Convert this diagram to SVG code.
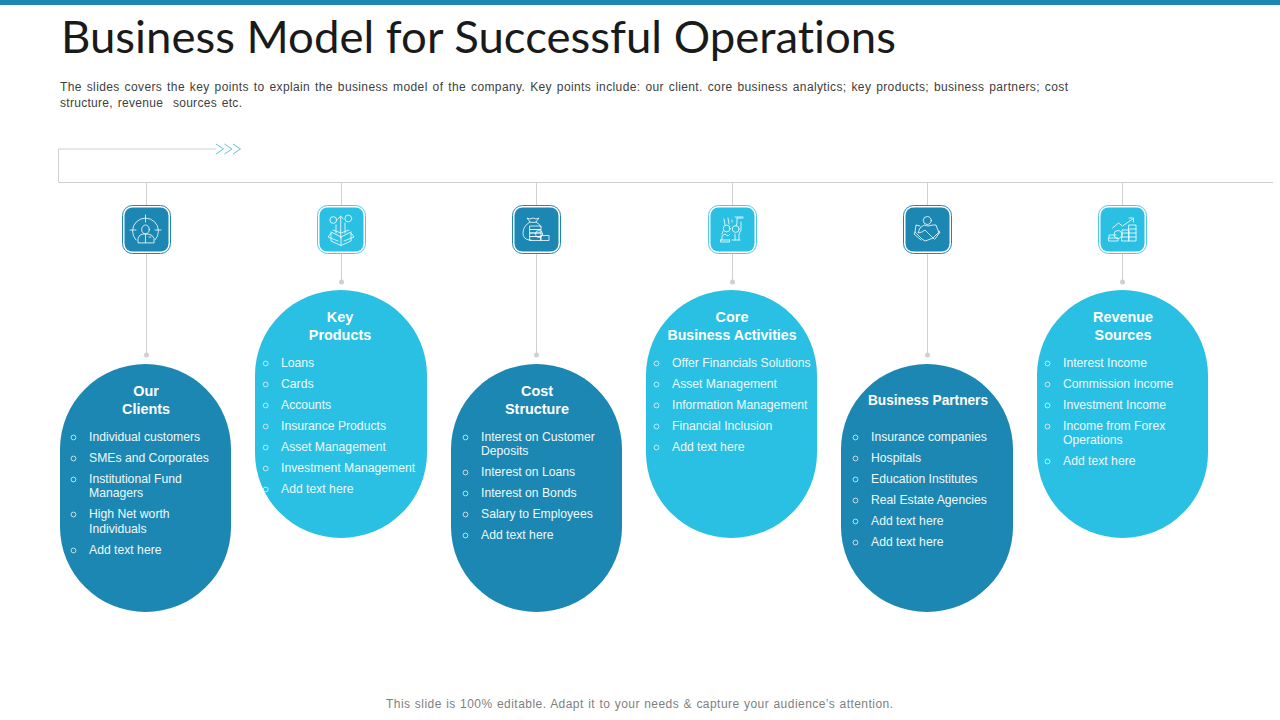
<svg xmlns="http://www.w3.org/2000/svg" width="1280" height="720" viewBox="0 0 1280 720">
<style>
text{font-family:"Liberation Sans",Arial,sans-serif;font-variant-ligatures:none}
.title{font-family:"Lato","Liberation Sans",sans-serif;font-size:45px;fill:#1a1a1a}
.intro{font-size:12px;fill:#404040;word-spacing:1.2px;white-space:pre}
.foot{font-size:12px;fill:#7f7f7f;word-spacing:.6px}
.dark{fill:#1c87b2}.light{fill:#29c0e3}
.h{font-size:14.400px;font-weight:bold;fill:#fff;text-anchor:middle}
.t{font-size:12.200px;fill:#eef9fc}
.b{fill:none;stroke:#e6f6fa;stroke-width:.8}
.line{fill:none;stroke:#d0d0d0;stroke-width:1}
.dot{fill:#d0d0d0}
.ring{fill:#fff;stroke-width:1}
.ic{fill:none;stroke:#fff;stroke-width:.8;stroke-linecap:round;stroke-linejoin:round}
.chev{fill:none;stroke:#62c6d4;stroke-width:1}
</style>
<defs>
<g id="bullet"><circle r="2.400" class="b"/></g>
</defs>
<rect width="1280" height="5" fill="#1c87b2"/>
<text class="title" x="61" y="53" textLength="835" lengthAdjust="spacingAndGlyphs">Business Model for Successful Operations</text>
<text class="intro" x="60" y="91" textLength="1008">The slides covers the key points to explain the business model of the company. Key points include: our client. core business analytics; key products; business partners; cost</text>
<text class="intro" x="60" y="107" textLength="182">structure, revenue  sources etc.</text>
<g id="connectors">
<path class="line" d="M216 149H58.500V182.500H1273"/>
<path class="chev" d="M216 144l7.500 5l-7.500 5M224.500 144l7.500 5l-7.500 5M233 144l7.500 5l-7.500 5"/>
<path class="line" d="M146.500 182.500V355M341.500 182.500V282M536.500 182.500V355M732.500 182.500V282M927.500 182.500V355M1122.500 182.500V282"/>
<circle class="dot" cx="146.500" cy="355" r="2.500"/><circle class="dot" cx="341.500" cy="282" r="2.500"/><circle class="dot" cx="536.500" cy="355" r="2.500"/><circle class="dot" cx="732.500" cy="282" r="2.500"/><circle class="dot" cx="927.500" cy="355" r="2.500"/><circle class="dot" cx="1122.500" cy="282" r="2.500"/>
</g>
<g id="icon-clients">
<rect class="ring" x="122.500" y="205.500" width="48" height="48" rx="10" stroke="#1c87b2"/><rect class="dark" x="124.500" y="207.500" width="44" height="44" rx="8"/>
<g class="ic"><path d="M136 240a13 13 0 1 1 19 0M145.500 215v7M130 230h6M155 230h6"/><ellipse cx="145.500" cy="229.500" rx="3.800" ry="4.500"/><path d="M138 242.500v-4q1-4 5-4.500h5q5 .5 6 4.500v4zM145.500 234v8.500M149 237h2"/></g>
</g>
<g id="icon-products">
<rect class="ring" x="317.500" y="205.500" width="48" height="48" rx="10" stroke="#55c9e4"/><rect class="light" x="319.500" y="207.500" width="44" height="44" rx="8"/>
<g class="ic"><circle cx="333.300" cy="220" r="3.400"/><circle cx="348.300" cy="218.500" r="3.400"/><path d="M340.700 216v22M338 219l2.700-3l2.700 3M336 225v8M345 223v10M333 230l8 3l8-3M331 232l10 5l10-5M331 233v8l10 4.500l10-4.500v-8M341 237v8.500M331 233l-3 4l10 4M351 233l3 4l-10 4"/></g>
</g>
<g id="icon-cost">
<rect class="ring" x="512.500" y="205.500" width="48" height="48" rx="10" stroke="#1c87b2"/><rect class="dark" x="514.500" y="207.500" width="44" height="44" rx="8"/>
<g class="ic"><path d="M530 222l-3-4l3 1l3-1l3 1l3-1l-3 4zM530 222q-7 4-7 11q0 6 6 7h2M536 222q4 2 5 5"/><rect x="530" y="226" width="11" height="3.500"/><rect x="530" y="229.500" width="11" height="3.500"/><rect x="530" y="233" width="11" height="3.500"/><rect x="530" y="236.500" width="11" height="4"/><circle cx="539" cy="234" r="3.500"/><rect x="541" y="235.500" width="8" height="5"/></g>
</g>
<g id="icon-activities">
<rect class="ring" x="708.500" y="205.500" width="48" height="48" rx="10" stroke="#55c9e4"/><rect class="light" x="710.500" y="207.500" width="44" height="44" rx="8"/>
<g class="ic"><circle cx="726.700" cy="228.500" r="3.400"/><circle cx="735.700" cy="229" r="3.400"/><path d="M724 219l1 6M728 218l1 6M732 222v-2M722 234l1-3M722 240v-4l3-2l3 2l2-2M720.500 240h9M720.500 240v2h9v-2M743 218h-6v5l-1 3M735 217h8M741 222v8l-2 4v6M735 240v-6M732 240h8"/></g>
</g>
<g id="icon-partners">
<rect class="ring" x="903.500" y="205.500" width="48" height="48" rx="10" stroke="#1c87b2"/><rect class="dark" x="905.500" y="207.500" width="44" height="44" rx="8"/>
<g class="ic"><circle cx="927.300" cy="220.500" r="4"/><path d="M920 226l-4 -1l-1 7l7 7l3 2l3-1l5-2l4-4l2-1l-3-8l-3 0l-5 1l-4-1l-4 3l-2 5l4-1l3-2l9 9M915 232l-1 2l7 6M939 231l1 1l-5 7"/></g>
</g>
<g id="icon-revenue">
<rect class="ring" x="1098.500" y="205.500" width="48" height="48" rx="10" stroke="#55c9e4"/><rect class="light" x="1100.500" y="207.500" width="44" height="44" rx="8"/>
<g class="ic"><path d="M1112.500 228l6-5l4 3l11-7.500M1129 218h4.500v4M1109 241h9v-3h-9zM1109 238v-3h7M1122 241h7v-4h-7zM1122 237v-4h7v4M1122 233v-3h7v3M1129 241h7V225h-7zM1129 229h7M1129 233h7M1129 237h7"/><circle cx="1118" cy="234.500" r="4"/></g>
</g>
<g id="node-clients">
<rect class="dark" x="60" y="364" width="171" height="248" rx="85.500" ry="85"/>
<text class="h" x="146" y="396">Our</text><text class="h" x="146" y="414">Clients</text>
<use href="#bullet" x="73.500" y="437.500"/><text class="t" x="89" y="441">Individual customers</text>
<use href="#bullet" x="73.500" y="458.500"/><text class="t" x="89" y="462">SMEs and Corporates</text>
<use href="#bullet" x="73.500" y="479.500"/><text class="t" x="89" y="483">Institutional Fund</text><text class="t" x="89" y="497">Managers</text>
<use href="#bullet" x="73.500" y="514.500"/><text class="t" x="89" y="518">High Net worth</text><text class="t" x="89" y="533">Individuals</text>
<use href="#bullet" x="73.500" y="550.500"/><text class="t" x="89" y="554">Add text here</text>
</g>
<g id="node-products">
<rect class="light" x="255" y="290" width="172" height="248" rx="86" ry="85"/>
<text class="h" x="340" y="322">Key</text><text class="h" x="340" y="340">Products</text>
<use href="#bullet" x="265.700" y="363.500"/><text class="t" x="281" y="367">Loans</text>
<use href="#bullet" x="265.700" y="384.500"/><text class="t" x="281" y="388">Cards</text>
<use href="#bullet" x="265.700" y="405.500"/><text class="t" x="281" y="409">Accounts</text>
<use href="#bullet" x="265.700" y="426.500"/><text class="t" x="281" y="430">Insurance Products</text>
<use href="#bullet" x="265.700" y="447.500"/><text class="t" x="281" y="451">Asset Management</text>
<use href="#bullet" x="265.700" y="468.500"/><text class="t" x="281" y="472">Investment Management</text>
<use href="#bullet" x="265.700" y="489.500"/><text class="t" x="281" y="493">Add text here</text>
</g>
<g id="node-cost">
<rect class="dark" x="451" y="364" width="171" height="248" rx="85.500" ry="85"/>
<text class="h" x="537" y="396">Cost</text><text class="h" x="537" y="414">Structure</text>
<use href="#bullet" x="465.500" y="437.500"/><text class="t" x="481" y="441">Interest on Customer</text><text class="t" x="481" y="455">Deposits</text>
<use href="#bullet" x="465.500" y="472.500"/><text class="t" x="481" y="476">Interest on Loans</text>
<use href="#bullet" x="465.500" y="493.500"/><text class="t" x="481" y="497">Interest on Bonds</text>
<use href="#bullet" x="465.500" y="514.500"/><text class="t" x="481" y="518">Salary to Employees</text>
<use href="#bullet" x="465.500" y="535.500"/><text class="t" x="481" y="539">Add text here</text>
</g>
<g id="node-activities">
<rect class="light" x="646" y="290" width="171" height="248" rx="85.500" ry="85"/>
<text class="h" x="732" y="322">Core</text><text class="h" x="732" y="340" textLength="129" lengthAdjust="spacingAndGlyphs">Business Activities</text>
<use href="#bullet" x="656.500" y="363.500"/><text class="t" x="672" y="367">Offer Financials Solutions</text>
<use href="#bullet" x="656.500" y="384.500"/><text class="t" x="672" y="388">Asset Management</text>
<use href="#bullet" x="656.500" y="405.500"/><text class="t" x="672" y="409">Information Management</text>
<use href="#bullet" x="656.500" y="426.500"/><text class="t" x="672" y="430">Financial Inclusion</text>
<use href="#bullet" x="656.500" y="447.500"/><text class="t" x="672" y="451">Add text here</text>
</g>
<g id="node-partners">
<rect class="dark" x="841" y="364" width="172" height="248" rx="86" ry="85"/>
<text class="h" x="928" y="405" textLength="120" lengthAdjust="spacingAndGlyphs">Business Partners</text>
<use href="#bullet" x="855.500" y="437.500"/><text class="t" x="871" y="441">Insurance companies</text>
<use href="#bullet" x="855.500" y="458.500"/><text class="t" x="871" y="462">Hospitals</text>
<use href="#bullet" x="855.500" y="479.500"/><text class="t" x="871" y="483">Education Institutes</text>
<use href="#bullet" x="855.500" y="500.500"/><text class="t" x="871" y="504">Real Estate Agencies</text>
<use href="#bullet" x="855.500" y="521.500"/><text class="t" x="871" y="525">Add text here</text>
<use href="#bullet" x="855.500" y="542.500"/><text class="t" x="871" y="546">Add text here</text>
</g>
<g id="node-revenue">
<rect class="light" x="1037" y="290" width="171" height="248" rx="85.500" ry="85"/>
<text class="h" x="1123" y="322">Revenue</text><text class="h" x="1123" y="340">Sources</text>
<use href="#bullet" x="1047.500" y="363.500"/><text class="t" x="1063" y="367">Interest Income</text>
<use href="#bullet" x="1047.500" y="384.500"/><text class="t" x="1063" y="388">Commission Income</text>
<use href="#bullet" x="1047.500" y="405.500"/><text class="t" x="1063" y="409">Investment Income</text>
<use href="#bullet" x="1047.500" y="426.500"/><text class="t" x="1063" y="430">Income from Forex</text><text class="t" x="1063" y="444">Operations</text>
<use href="#bullet" x="1047.500" y="461.500"/><text class="t" x="1063" y="465">Add text here</text>
</g>
<text class="foot" x="386" y="708" textLength="507">This slide is 100% editable. Adapt it to your needs &amp; capture your audience’s attention.</text>
</svg>
